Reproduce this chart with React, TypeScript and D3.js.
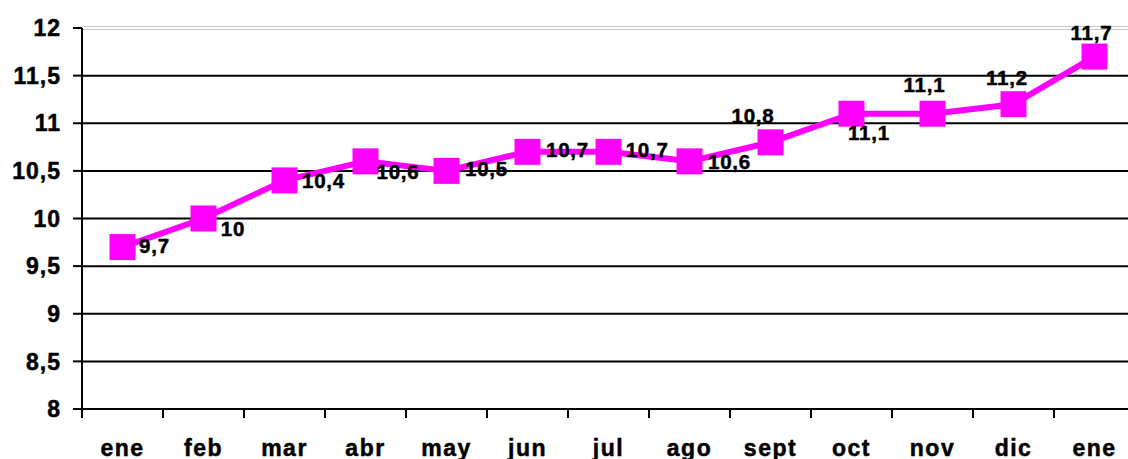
import React from "react";
import * as d3 from "d3";

const months = ["ene", "feb", "mar", "abr", "may", "jun", "jul", "ago", "sept", "oct", "nov", "dic", "ene"];
const values = [9.7, 10, 10.4, 10.6, 10.5, 10.7, 10.7, 10.6, 10.8, 11.1, 11.1, 11.2, 11.7];
const yTicks = [8, 8.5, 9, 9.5, 10, 10.5, 11, 11.5, 12];
const labelOffsets: [number, number][] = [
  [32, -1], [29.5, 10], [39, 0.6], [32.5, 10.7], [40, -2], [40, -2], [38.7, -2],
  [40, 0], [-17.5, -27], [17.5, 19], [-8, -28.7], [-6.5, -27], [-3, -23.6],
];

const W = 1128;
const H = 459;
const left = 82;
const step = 81;
const top = 28;
const bottom = 409;
const font = "Arial, 'Liberation Sans', sans-serif";
const fmt = (v: number) => String(v).replace(".", ",");

export default function App() {
  const idx = months.map((_, i) => i);
  const x = d3.scaleBand<number>().domain(idx).range([left, left + step * months.length]).padding(0);
  const y = d3.scaleLinear().domain([8, 12]).range([bottom, top]);
  const cx = (i: number) => (x(i) as number) + x.bandwidth() / 2;
  const line = d3.line<number>().x((_, i) => cx(i)).y((v) => y(v));
  const labelFs = 20.5;
  const axisFs = 23;
  const ms = 26;
  const textStyle = { stroke: "#000", strokeWidth: 0.5 };

  return (
    <svg width={W} height={H} style={{ position: "absolute", left: 0, top: 0, background: "#fff" }}>
      {yTicks.map((t) =>
        t === 12 ? (
          <g key={t}>
            <line x1={left} x2={W} y1={26.5} y2={26.5} stroke="#c8c8c8" strokeWidth={1} />
            <line x1={left} x2={W} y1={29.5} y2={29.5} stroke="#c8c8c8" strokeWidth={1} />
          </g>
        ) : (
          <line key={t} x1={left} x2={W} y1={y(t)} y2={y(t)} stroke="#000" strokeWidth={2} />
        )
      )}
      <line x1={left} x2={left} y1={y(12)} y2={bottom + 9} stroke="#000" strokeWidth={2} />
      {yTicks.map((t) => (
        <g key={"yt" + t}>
          <line x1={left - 9} x2={left} y1={y(t)} y2={y(t)} stroke="#000" strokeWidth={2} />
          <text
            x={61}
            y={y(t) + axisFs * 0.716 / 2}
            textAnchor="end"
            fontFamily={font}
            fontWeight="bold"
            fontSize={axisFs}
            letterSpacing={1}
            fill="#000"
            style={textStyle}
          >
            {fmt(t)}
          </text>
        </g>
      ))}
      {d3.range(months.length + 1).map((k) => (
        <line
          key={"xt" + k}
          x1={left + step * k}
          x2={left + step * k}
          y1={bottom}
          y2={bottom + 9}
          stroke="#000"
          strokeWidth={2}
        />
      ))}
      {months.map((m, i) => (
        <text
          key={"m" + i}
          x={cx(i)}
          y={456}
          textAnchor="middle"
          fontFamily={font}
          fontWeight="bold"
          fontSize={axisFs}
          letterSpacing={1.5}
          fill="#000"
          style={textStyle}
        >
          {m}
        </text>
      ))}
      <path d={line(values) || ""} fill="none" stroke="#FF00FF" strokeWidth={6} strokeLinejoin="round" />
      {values.map((v, i) => (
        <rect key={"mk" + i} x={cx(i) - ms / 2} y={y(v) - ms / 2} width={ms} height={ms} fill="#FF00FF" />
      ))}
      {values.map((v, i) => (
        <text
          key={"lb" + i}
          x={cx(i) + labelOffsets[i][0]}
          y={y(v) + labelOffsets[i][1] + labelFs * 0.716 / 2}
          textAnchor="middle"
          fontFamily={font}
          fontWeight="bold"
          fontSize={labelFs}
          letterSpacing={0.8}
          fill="#000"
          style={textStyle}
        >
          {fmt(v)}
        </text>
      ))}
    </svg>
  );
}
